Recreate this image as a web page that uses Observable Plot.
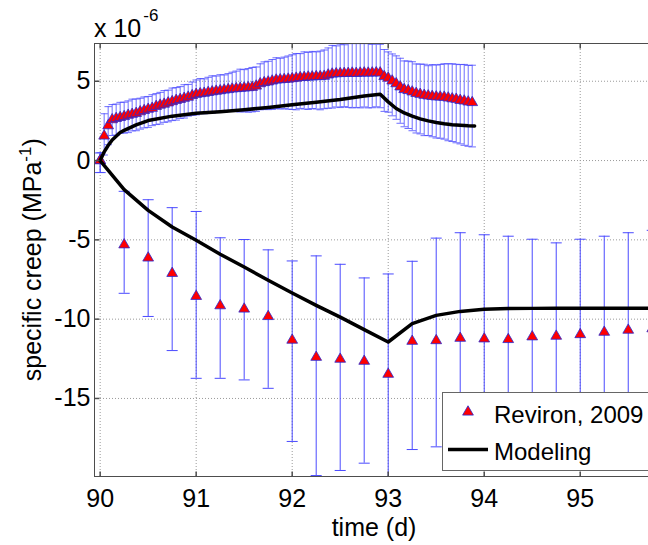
<!DOCTYPE html>
<html>
<head>
<meta charset="utf-8">
<script src="https://cdn.jsdelivr.net/npm/d3@7"></script>
<script src="https://cdn.jsdelivr.net/npm/@observablehq/plot@0.6"></script>
<style>
  html, body { margin: 0; padding: 0; background: #fff; overflow: hidden; }
  svg { display: block; }
</style>
</head>
<body>
<div id="chart"></div>
<script>
// ---- axis limits & ticks (values in units of 1e-6 MPa^-1) ----
const xDomain = [89.941, 95.711];
const yDomain = [-19.92, 7.38];
const xTicks = [90, 91, 92, 93, 94, 95];
const yTicks = [-15, -10, -5, 0, 5];

// ---- Reviron, 2009 : upper series (hours after day 90) ----
const upperHours = [0,1,2,3,4,5,6,7,8,9,10,11,12,13,14,15,16,17,18,19,20,21,22,23,24,25,26,27,28,29,30,31,32,33,34,35,36,37,38,39,40,41,42,43,44,45,46,47,48,49,50,51,52,53,54,55,56,57,58,59,60,61,62,63,64,65,66,67,68,69,70,71,72,73,74,75,76,77,78,79,80,81,82,83,84,85,86,87,88,89,90,91,92,93];
const upperVal = [0, 1.55, 2.2, 2.58, 2.66, 2.72, 2.78, 2.86, 2.92, 2.98,
  3.08, 3.16, 3.24, 3.3, 3.42, 3.5, 3.56, 3.64, 3.72, 3.8,
  3.86, 3.93, 4.0, 4.1, 4.18, 4.22, 4.25, 4.3, 4.34, 4.38,
  4.41, 4.45, 4.48, 4.52, 4.54, 4.56, 4.58, 4.6, 4.62, 4.7,
  4.85, 4.92, 4.96, 5.02, 5.08, 5.1, 5.12, 5.14, 5.17, 5.2,
  5.24, 5.25, 5.27, 5.28, 5.3, 5.3, 5.32, 5.4, 5.46, 5.48,
  5.49, 5.5, 5.5, 5.52, 5.5, 5.52, 5.53, 5.52, 5.53, 5.54,
  5.53, 5.3, 5.2, 5.02, 4.85, 4.65, 4.48, 4.42, 4.33, 4.24,
  4.18, 4.12, 4.08, 4.05, 4.02, 4.01, 4.0, 3.95, 3.9, 3.87,
  3.8, 3.76, 3.7, 3.66];
const upperErrHi = [0.5, 1.4, 1.2,
  0.95, 0.9, 0.95, 0.9, 0.9, 0.95, 0.9, 0.85,
  0.85, 0.8, 0.85, 0.8, 0.8, 0.85, 0.8, 0.85, 0.8, 0.8, 0.85, 0.8,
  0.85, 0.9, 0.95, 0.9, 0.95, 1.0, 0.95, 1.0, 0.95, 1.0,
  1.05, 1.1, 1.2, 1.15, 1.2, 1.25, 1.2, 1.25, 1.3,
  1.3, 1.35, 1.4, 1.35, 1.4, 1.45,
  1.5, 1.55, 1.5, 1.6, 1.55, 1.6, 1.55, 1.6, 1.65,
  1.7, 1.8, 1.75, 1.85, 1.8, 1.9, 1.85, 1.9, 1.85, 1.9, 1.85, 1.8, 1.85, 1.8,
  1.7, 1.65, 1.7, 1.75, 1.8, 1.8,
  1.85, 1.9, 1.85, 1.9, 1.95, 1.9, 2.0, 2.0, 2.05,
  2.1, 2.15, 2.2, 2.2, 2.25, 2.3, 2.3, 2.35];
const upperErrLo = [0.75, 1.2, 1.2,
  1.0, 1.05, 1.0, 1.05, 1.1, 1.05, 1.1, 1.1,
  1.1, 1.15, 1.1, 1.15, 1.2, 1.15, 1.2, 1.2, 1.25, 1.2, 1.25, 1.2,
  1.25, 1.3, 1.25, 1.3, 1.3, 1.35, 1.3, 1.35, 1.4, 1.35,
  1.4, 1.45, 1.5, 1.5, 1.55, 1.55, 1.6, 1.65, 1.7,
  1.75, 1.8, 1.8, 1.85, 1.85, 1.9,
  1.95, 2.0, 1.95, 2.0, 2.05, 2.0, 2.05, 2.1, 2.05,
  2.1, 2.15, 2.1, 2.15, 2.1, 2.15, 2.2, 2.15, 2.2, 2.15, 2.2, 2.2, 2.15, 2.2,
  2.2, 2.15, 2.2, 2.25, 2.3, 2.35,
  2.4, 2.45, 2.5, 2.5, 2.55, 2.5, 2.55, 2.6, 2.6,
  2.65, 2.7, 2.7, 2.75, 2.75, 2.8, 2.8, 2.8];

// ---- Reviron, 2009 : lower series ----
const lowerDays = [90, 90.25, 90.5, 90.75, 91, 91.25, 91.5, 91.75, 92, 92.25, 92.5, 92.75, 93, 93.25, 93.5, 93.75, 94, 94.25, 94.5, 94.75, 95, 95.25, 95.5, 95.75];
const lowerVal = [0, -5.31, -6.14, -7.11, -8.56, -9.15, -9.36, -9.83, -11.32, -12.40, -12.52, -12.65, -13.47, -11.39, -11.35, -11.2, -11.24, -11.28, -11.11, -11.07, -10.97, -10.82, -10.69, -10.6];
const lowerTop = [0.48, -1.94, -2.47, -2.97, -3.21, -4.87, -4.98, -5.63, -6.33, -6.01, -6.54, -7.40, -7.15, -6.35, -4.89, -4.55, -4.68, -4.77, -4.96, -5.19, -4.96, -4.77, -4.55, -4.4];
const lowerBottom = [-0.76, -8.37, -9.83, -11.98, -13.73, -13.73, -13.83, -14.36, -17.71, -19.86, -19.54, -19.08, -21.5, -18.22, -18.05, -17.85, -17.8, -17.79, -17.26, -16.95, -16.98, -16.87, -16.83, -16.8];

// ---- Modeling ----
const modelUpDays = [90, 90.042, 90.083, 90.125, 90.208, 90.25, 90.375, 90.5, 90.75, 91, 91.25, 91.5, 91.75, 92, 92.25, 92.5, 92.75, 92.917, 93, 93.083, 93.167, 93.25, 93.333, 93.417, 93.5, 93.583, 93.667, 93.75, 93.833, 93.9];
const modelUpVal = [0, 0.55, 0.95, 1.3, 1.77, 1.9, 2.25, 2.52, 2.8, 2.98, 3.08, 3.2, 3.35, 3.52, 3.68, 3.85, 4.07, 4.18, 3.7, 3.28, 3.0, 2.8, 2.63, 2.5, 2.4, 2.32, 2.26, 2.22, 2.19, 2.18];
const modelLowDays = [90, 90.25, 90.5, 90.75, 91, 91.25, 91.5, 91.75, 92, 92.25, 92.5, 92.75, 93, 93.25, 93.5, 93.75, 94, 94.25, 94.5, 94.75, 95, 95.25, 95.5, 95.75, 96];
const modelLowVal = [0, -1.83, -3.14, -4.19, -5.03, -5.91, -6.71, -7.55, -8.35, -9.13, -9.87, -10.66, -11.44, -10.28, -9.76, -9.51, -9.38, -9.33, -9.32, -9.31, -9.31, -9.31, -9.31, -9.31, -9.31];

// ---- tables built from the arrays ----
const upper = upperHours.map((h, i) => ({t: 90 + h / 24, v: upperVal[i], lo: upperVal[i] - upperErrLo[i], hi: upperVal[i] + upperErrHi[i]}));
const lower = lowerDays.map((d, i) => ({t: d, v: lowerVal[i], lo: lowerBottom[i], hi: lowerTop[i]}));
const modelUp = modelUpDays.map((d, i) => ({t: d, v: modelUpVal[i]}));
const modelLow = modelLowDays.map((d, i) => ({t: d, v: modelLowVal[i]}));

// MATLAB-style errorbar tee: 1% of the x-range of each series
const teeUp = (d3.max(upper, d => d.t) - d3.min(upper, d => d.t)) / 100;
const teeLow = (d3.max(lower, d => d.t) - d3.min(lower, d => d.t)) / 100;

const FONT = "'Liberation Sans', Arial, Helvetica, sans-serif";
const FS = 25;
const LFS = 24;
const BAR = "#4a4aff";
const AXC = "#4d4d4d";

// inward tick symbols
const tickUp = {draw(c) { c.moveTo(0, 0); c.lineTo(0, -5); }};
const tickDown = {draw(c) { c.moveTo(0, 0); c.lineTo(0, 5); }};
const tickRight = {draw(c) { c.moveTo(0, 0); c.lineTo(5, 0); }};

function errorMarks(data, tee, op) {
  return [
    Plot.ruleX(data, {x: "t", y1: "lo", y2: "hi", stroke: BAR, strokeOpacity: op, strokeWidth: 1, clip: true}),
    Plot.link(data, {x1: d => d.t - tee, x2: d => d.t + tee, y1: "hi", y2: "hi", stroke: BAR, strokeOpacity: op, strokeWidth: 1, clip: true}),
    Plot.link(data, {x1: d => d.t - tee, x2: d => d.t + tee, y1: "lo", y2: "lo", stroke: BAR, strokeOpacity: op, strokeWidth: 1, clip: true}),
    Plot.dot(data, {x: "t", y: "v", symbol: "triangle", r: 4, fill: "#ff0000", stroke: "#2a2ad0", strokeWidth: 0.8, clip: true})
  ];
}

const chart = Plot.plot({
  width: 648,
  height: 545,
  marginLeft: 94,
  marginRight: 0,
  marginTop: 43,
  marginBottom: 69,
  style: {fontFamily: FONT, background: "white", color: "black", overflow: "hidden"},
  x: {domain: xDomain},
  y: {domain: yDomain},
  marks: [
    Plot.gridX(xTicks, {stroke: "#9a9a9a", strokeOpacity: 1, strokeDasharray: "1,2"}),
    Plot.gridY(yTicks, {stroke: "#9a9a9a", strokeOpacity: 1, strokeDasharray: "1,2"}),
    Plot.axisX(xTicks, {anchor: "bottom", tickSize: 0, tickPadding: 13, fontSize: FS, tickFormat: d => String(d), label: null}),
    Plot.axisY(yTicks, {anchor: "left", tickSize: 0, tickPadding: 4, fontSize: FS, tickFormat: d => String(d), label: null}),
    ...errorMarks(upper, teeUp, 0.8),
    ...errorMarks(lower, teeLow, 1),
    Plot.line(modelUp, {x: "t", y: "v", stroke: "black", strokeWidth: 3.5, clip: true}),
    Plot.line(modelLow, {x: "t", y: "v", stroke: "black", strokeWidth: 3.5, clip: true}),
    Plot.ruleX([xDomain[0]], {stroke: AXC}),
    Plot.ruleY([yDomain[0], yDomain[1]], {stroke: AXC}),
    Plot.dot(xTicks, {x: d => d, frameAnchor: "bottom", symbol: tickUp, stroke: AXC, fill: "none"}),
    Plot.dot(xTicks, {x: d => d, frameAnchor: "top", symbol: tickDown, stroke: AXC, fill: "none"}),
    Plot.dot(yTicks, {y: d => d, frameAnchor: "left", symbol: tickRight, stroke: AXC, fill: "none"})
  ]
});

document.getElementById("chart").appendChild(chart);

// ---- labels & legend ----
const svg = d3.select(chart);
function addText(sel, x, y, size, anchor) {
  return sel.append("text").attr("x", x).attr("y", y).attr("text-anchor", anchor || "start")
    .attr("font-family", FONT).attr("font-size", size).attr("fill", "black");
}

// exponent label
const expo = addText(svg, 94, 36.5, FS, "start");
expo.append("tspan").text("x 10");
expo.append("tspan").attr("dx", 2).attr("dy", -16).attr("font-size", 17).text("-6");

// y label
const yl = svg.append("text").attr("transform", "translate(41,259.7) rotate(-90)")
  .attr("text-anchor", "middle").attr("font-family", FONT).attr("font-size", FS).attr("fill", "black");
yl.append("tspan").text("specific creep (MPa");
yl.append("tspan").attr("dy", -10).attr("font-size", 17).text("-1");
yl.append("tspan").attr("dy", 10).text(")");

// x label
addText(svg, 374, 536, FS, "middle").text("time (d)");

// legend
const lg = svg.append("g");
lg.append("rect").attr("x", 442.5).attr("y", 392.5).attr("width", 260).attr("height", 78)
  .attr("fill", "white").attr("stroke", "#666").attr("stroke-width", 1);
lg.append("path").attr("d", d3.symbol(d3.symbolTriangle, Math.PI * 16)())
  .attr("transform", "translate(468,412)").attr("fill", "#ff0000").attr("stroke", "#2a2ad0").attr("stroke-width", 0.8);
addText(lg, 494, 422.5, LFS, "start").text("Reviron, 2009");
lg.append("line").attr("x1", 448).attr("x2", 488).attr("y1", 449.5).attr("y2", 449.5)
  .attr("stroke", "black").attr("stroke-width", 3.5);
addText(lg, 494, 460, LFS, "start").text("Modeling");
</script>
</body>
</html>
